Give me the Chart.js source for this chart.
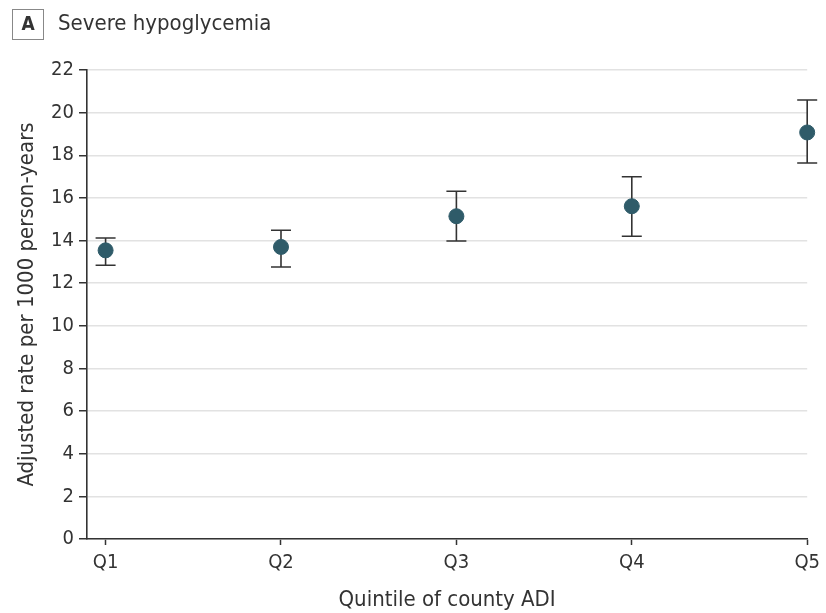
<!DOCTYPE html>
<html>
<head>
<meta charset="utf-8">
<script src="https://cdn.jsdelivr.net/npm/chart.js@4/dist/chart.umd.min.js"></script>
<style>
  html, body { margin: 0; padding: 0; background: #fff; }
  #wrap { width: 826px; height: 613px; }
</style>
</head>
<body>
<div id="wrap"><canvas id="chart" width="826" height="613"></canvas></div>
<script>
// data
var quintiles = ['Q1', 'Q2', 'Q3', 'Q4', 'Q5'];
var rates = [13.54, 13.70, 15.14, 15.61, 19.07];
var ciLow = [12.84, 12.76, 13.98, 14.20, 17.64];
var ciHigh = [14.12, 14.48, 16.31, 16.99, 20.59];
var yTicks = [0, 2, 4, 6, 8, 10, 12, 14, 16, 18, 20, 22];

var FONT = "'Liberation Sans Narrow', 'DejaVu Sans Condensed', 'Open Sans', sans-serif";
var INK = '#333333';
var DOT = '#2f5b69';

// panel label "A" in a box + title
const panelTitle = {
    id: 'panelTitle',
    afterDraw: (chart) => {
        var ctx = chart.ctx;
        ctx.save();
        ctx.strokeStyle = '#888';
        ctx.lineWidth = 1;
        ctx.strokeRect(12.5, 9.5, 31, 30);
        ctx.fillStyle = INK;
        ctx.font = 'bold 19px ' + FONT;
        ctx.textAlign = 'center';
        ctx.textBaseline = 'middle';
        ctx.fillText('A', 28, 25);
        ctx.font = '22px ' + FONT;
        ctx.textAlign = 'left';
        ctx.fillText('Severe hypoglycemia', 58, 24);
        ctx.restore();
    }
};

// 95% CI whiskers, drawn before the dots so the dots sit on top
const errorBars = {
    id: 'errorBars',
    beforeDatasetsDraw: (chart) => {
        var ctx = chart.ctx;
        var xs = chart.scales.x, ys = chart.scales.y;
        ctx.save();
        ctx.strokeStyle = INK;
        ctx.lineWidth = 1.6;
        quintiles.forEach((q, i) => {
            var x = xs.getPixelForValue(i + 1);
            var top = ys.getPixelForValue(ciHigh[i]);
            var bot = ys.getPixelForValue(ciLow[i]);
            ctx.beginPath();
            ctx.moveTo(x, top); ctx.lineTo(x, bot);
            ctx.moveTo(x - 10, top); ctx.lineTo(x + 10, top);
            ctx.moveTo(x - 10, bot); ctx.lineTo(x + 10, bot);
            ctx.stroke();
        });
        ctx.restore();
    }
};

new Chart('chart', {
    type: 'scatter',
    data: {
        datasets: [{
            data: rates.map((v, i) => ({ x: i + 1, y: v })),
            backgroundColor: DOT,
            borderColor: DOT,
            pointRadius: 7.5,
            pointHoverRadius: 7.5,
            clip: false
        }]
    },
    options: {
        responsive: false,
        animation: false,
        layout: { padding: { top: 70, right: 17, left: 14, bottom: 0 } },
        plugins: {
            legend: { display: false },
            tooltip: { enabled: false }
        },
        scales: {
            x: {
                type: 'linear',
                min: 0.894,
                max: 5,
                afterBuildTicks: (axis) => { axis.ticks = quintiles.map((q, i) => ({ value: i + 1 })); },
                afterFit: (axis) => { axis.height = 74; },
                ticks: {
                    callback: (v) => quintiles[v - 1],
                    color: INK,
                    font: { family: FONT, size: 20 },
                    padding: 6,
                    maxRotation: 0
                },
                grid: { drawOnChartArea: false, tickLength: 6, tickColor: INK, tickWidth: 1.5 },
                border: { color: INK, width: 1.6 },
                title: {
                    display: true,
                    text: 'Quintile of county ADI',
                    color: INK,
                    font: { family: FONT, size: 22 },
                    padding: { top: 6, bottom: 0 }
                }
            },
            y: {
                min: 0,
                max: 22,
                afterBuildTicks: (axis) => { axis.ticks = yTicks.map(v => ({ value: v })); },
                afterFit: (axis) => { axis.width = 73; },
                ticks: {
                    color: INK,
                    font: { family: FONT, size: 20 },
                    padding: 5
                },
                grid: { color: '#e2e2e2', lineWidth: 1.5, tickLength: 8, tickColor: INK, tickWidth: 1.5 },
                border: { color: INK, width: 1.6 },
                title: {
                    display: true,
                    text: 'Adjusted rate per 1000 person-years',
                    color: INK,
                    font: { family: FONT, size: 22 },
                    padding: { top: 0, bottom: 4 }
                }
            }
        }
    },
    plugins: [errorBars, panelTitle]
});
</script>
</body>
</html>
